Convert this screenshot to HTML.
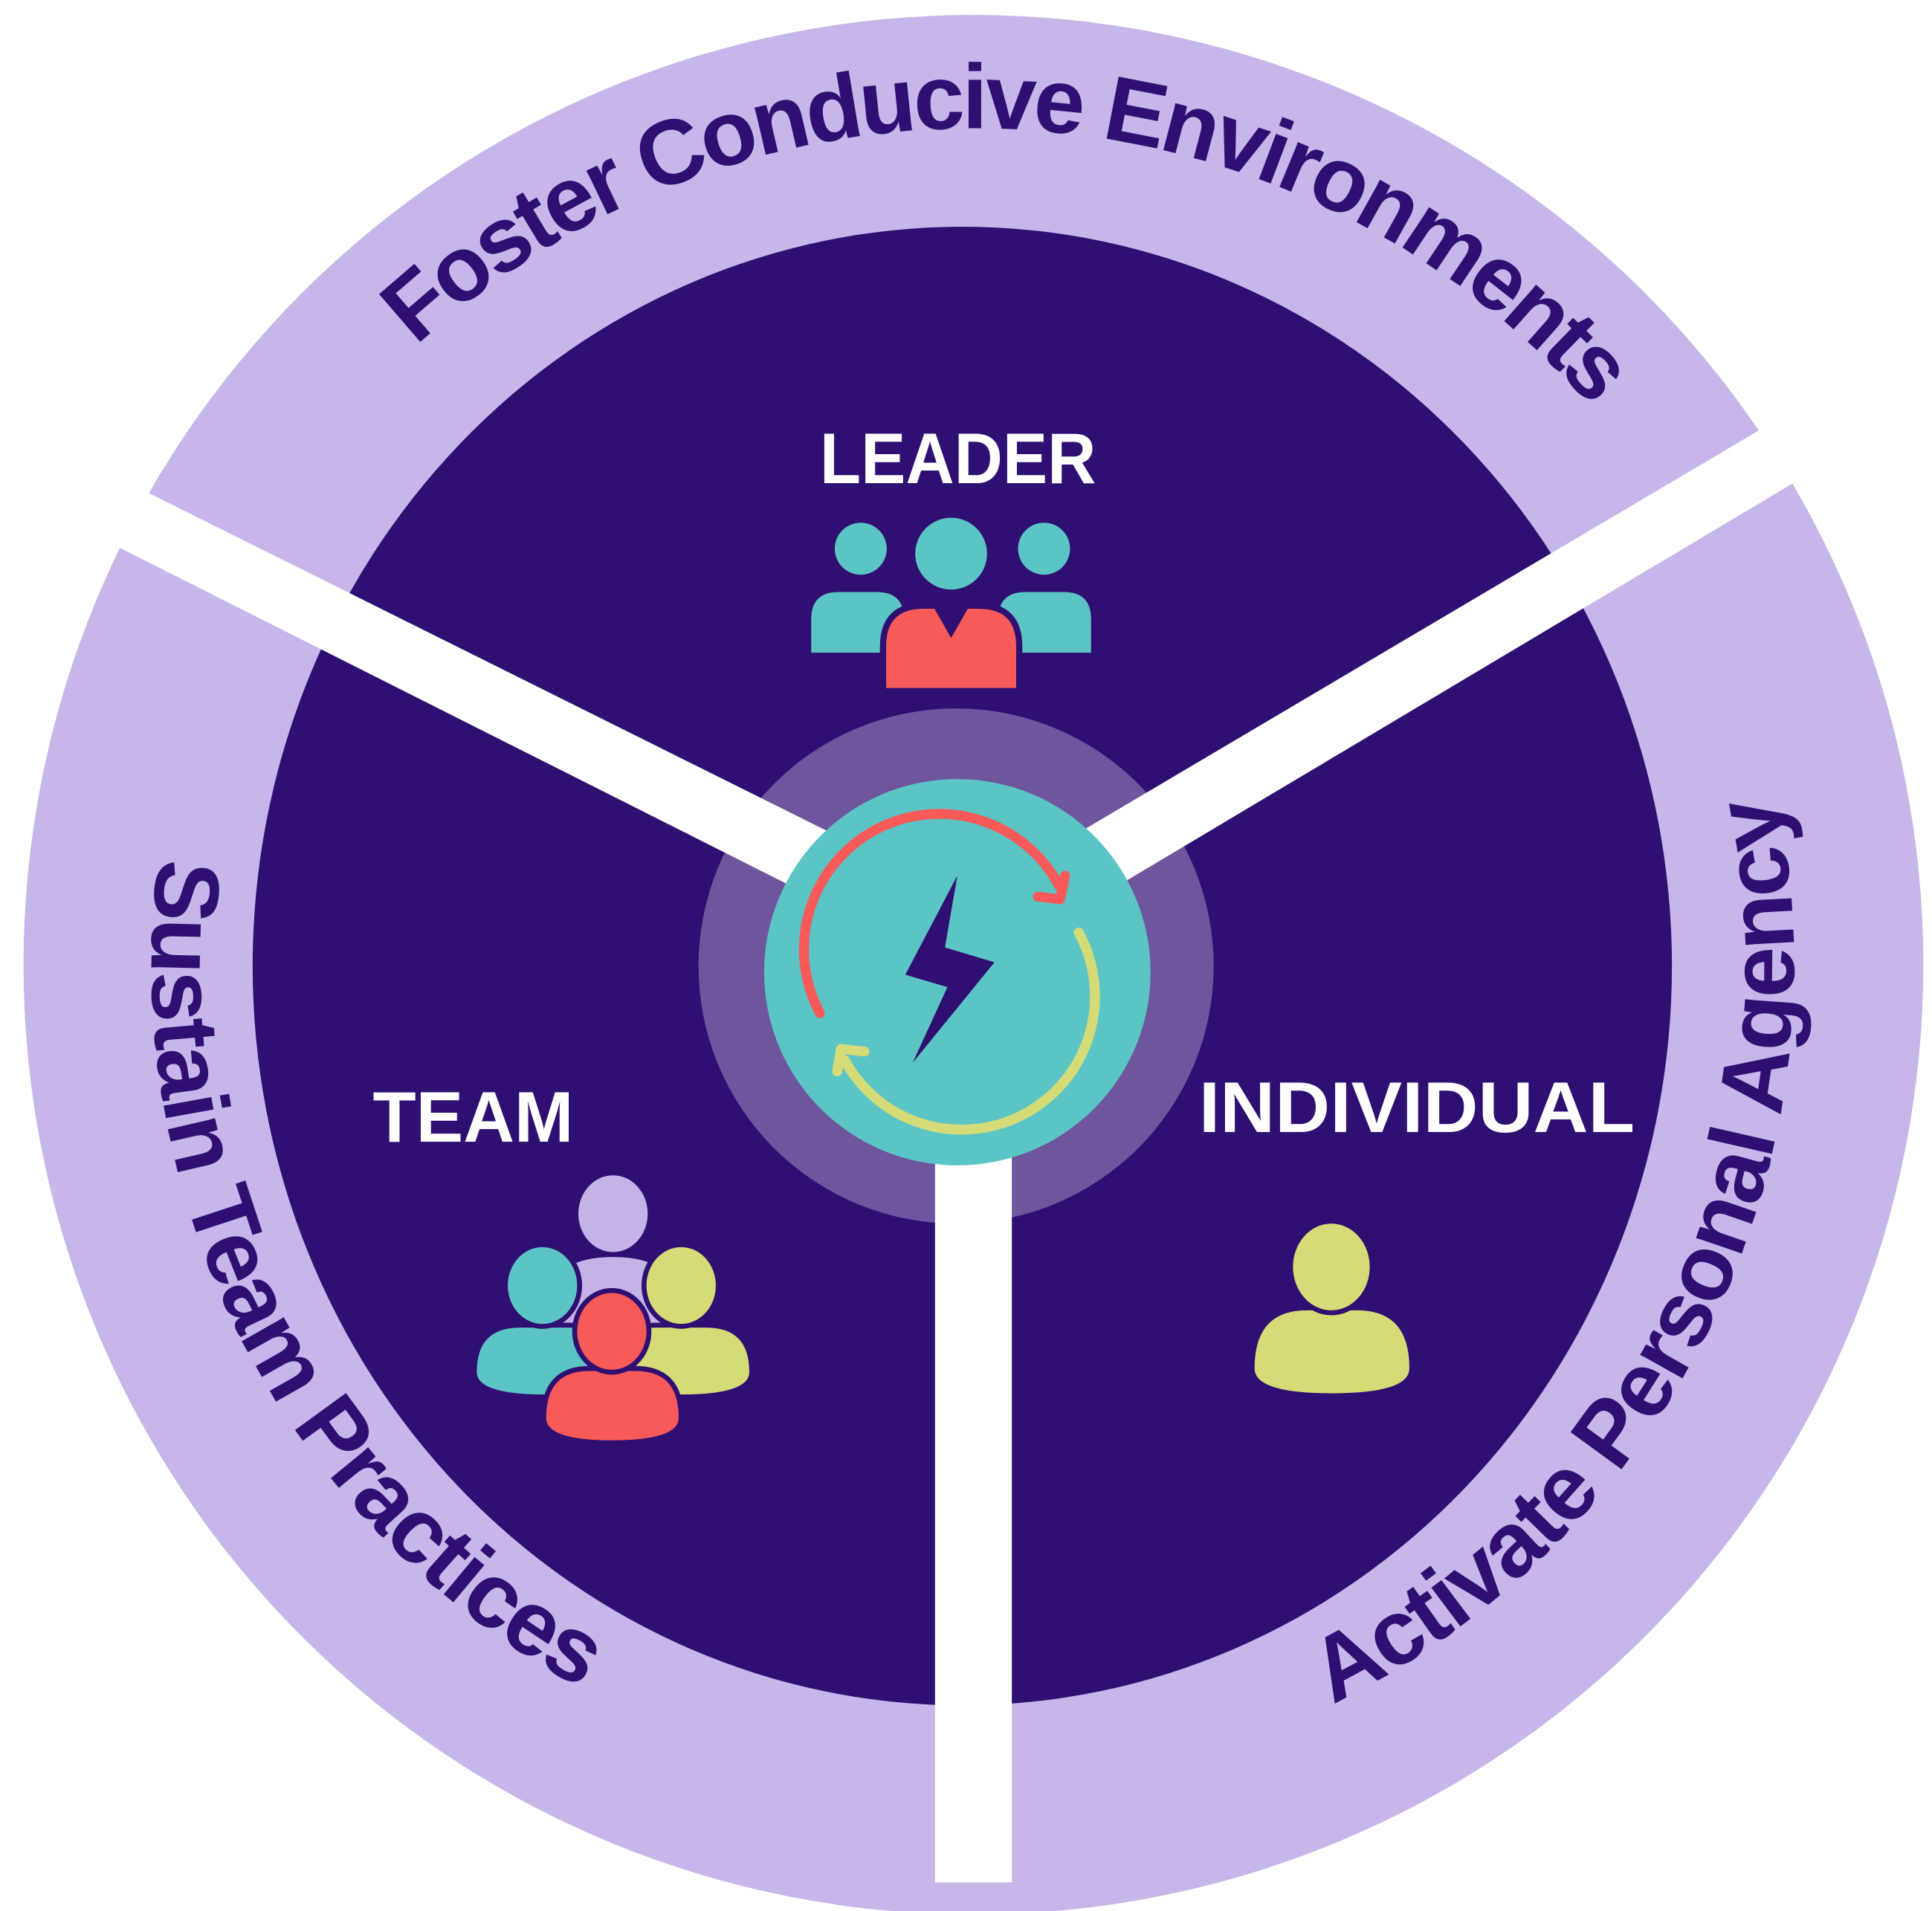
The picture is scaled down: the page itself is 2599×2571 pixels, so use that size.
<!DOCTYPE html>
<html><head><meta charset="utf-8"><style>
html,body{margin:0;padding:0;background:#fff}
svg{display:block}
</style></head><body>
<svg width="2599" height="2571" viewBox="0 0 1560 1543" xmlns="http://www.w3.org/2000/svg">
<defs>
<path id="ptop" d="M122.6,733.6 A660,660 0 0 1 1450.6,803.2"/>
<path id="pleft" d="M473.8,192.9 A665,665 0 0 0 1077.5,1377.7"/>
<path id="pright" d="M494.5,1377.7 A665,665 0 0 0 1077.5,182.3"/>
</defs>
<circle cx="786" cy="779" r="767" fill="#c6b6ea"/>
<ellipse cx="777" cy="780" rx="573" ry="597" fill="#2f0f72"/>
<circle cx="772" cy="780" r="208" fill="#6e559d"/>
<!-- spokes -->
<polygon points="120,398 96,442 640,716 670,672" fill="#fff"/>
<polygon points="1421,347 1448,390 908,712 875,670" fill="#fff"/>
<rect x="755" y="900" width="62" height="620" fill="#fff"/>
<circle cx="773" cy="785" r="156" fill="#5bc5c6"/>
<!-- refresh arrows -->
<path d="M662,818 A107,107 0 0 1 855,715" fill="none" stroke="#f75a58" stroke-width="8" stroke-linecap="round"/>
<polyline points="838,724 856,726 860,707" fill="none" stroke="#f75a58" stroke-width="8" stroke-linecap="round" stroke-linejoin="round"/>
<path d="M871,753 A107,107 0 0 1 682,856" fill="none" stroke="#d5db76" stroke-width="8" stroke-linecap="round"/>
<polyline points="698,849 679,847 676,865" fill="none" stroke="#d5db76" stroke-width="8" stroke-linecap="round" stroke-linejoin="round"/>
<polygon points="773,707 763,765 803,777 737,858 765,797 731,787" fill="#2f0f72"/>
<!-- ring texts -->
<g font-family="Liberation Sans, sans-serif" font-weight="bold" font-size="74" fill="#2f0f72">
<text text-anchor="middle"><textPath href="#ptop" startOffset="50%" textLength="1060" lengthAdjust="spacing">Foster Conducive Environments</textPath></text>
<text text-anchor="middle"><textPath href="#pleft" startOffset="50%" textLength="800" lengthAdjust="spacing">Sustain Team Practices</textPath></text>
<text text-anchor="middle"><textPath href="#pright" startOffset="50%" textLength="880" lengthAdjust="spacing">Activate Personal Agency</textPath></text>
</g>
<!-- labels -->
<g font-family="Liberation Sans, sans-serif" font-weight="bold" fill="#fff" font-size="58">
<text x="662" y="390" textLength="223" lengthAdjust="spacingAndGlyphs">LEADER</text>
<text x="301" y="922" textLength="162" lengthAdjust="spacingAndGlyphs">TEAM</text>
<text x="968" y="914" textLength="352" lengthAdjust="spacingAndGlyphs">INDIVIDUAL</text>
</g>
<!-- leader icon -->
<circle cx="695" cy="443" r="21" fill="#5bc5c6"/>
<circle cx="843" cy="443" r="21" fill="#5bc5c6"/>
<circle cx="768" cy="447" r="29" fill="#5bc5c6"/>
<path d="M655,527 L655,500 Q655,478 677,478 L708,478 Q730,478 730,500 L730,527 Z" fill="#5bc5c6"/>
<path d="M806,527 L806,500 Q806,478 828,478 L859,478 Q881,478 881,500 L881,527 Z" fill="#5bc5c6"/>
<path d="M713,558 L713,522 Q713,489 746,489 L756,489 L768,510 L780,489 L790,489 Q823,489 823,522 L823,558 Z" fill="#f75a58" stroke="#2f0f72" stroke-width="5"/>
<!-- team icon -->
<path d="M440,1060 Q440,1015 495,1015 Q550,1015 550,1060 L550,1080 L440,1080 Z" fill="#c3b3e6"/>
<ellipse cx="495" cy="980" rx="30" ry="33" fill="#c3b3e6" stroke="#2f0f72" stroke-width="4"/>
<path d="M383,1108 Q383,1070 420,1070 L460,1070 Q497,1070 497,1108 Q497,1128 440,1128 Q383,1128 383,1108 Z" fill="#5bc5c6" stroke="#2f0f72" stroke-width="4"/>
<ellipse cx="438" cy="1038" rx="30" ry="33" fill="#5bc5c6" stroke="#2f0f72" stroke-width="4"/>
<path d="M493,1108 Q493,1070 530,1070 L570,1070 Q607,1070 607,1108 Q607,1128 550,1128 Q493,1128 493,1108 Z" fill="#d5db76" stroke="#2f0f72" stroke-width="4"/>
<ellipse cx="550" cy="1038" rx="30" ry="33" fill="#d5db76" stroke="#2f0f72" stroke-width="4"/>
<path d="M439,1145 Q439,1105 476,1105 L513,1105 Q550,1105 550,1145 Q550,1165 494,1165 Q439,1165 439,1145 Z" fill="#f75a58" stroke="#2f0f72" stroke-width="4"/>
<ellipse cx="494" cy="1075" rx="30" ry="33" fill="#f75a58" stroke="#2f0f72" stroke-width="4"/>
<!-- individual -->
<path d="M1013,1105 Q1013,1058 1055,1058 L1096,1058 Q1138,1058 1138,1105 Q1138,1125 1075,1125 Q1013,1125 1013,1105 Z" fill="#d5db76"/>
<ellipse cx="1075" cy="1023" rx="33" ry="37" fill="#d5db76" stroke="#2f0f72" stroke-width="4"/>
</svg>
</body></html>
